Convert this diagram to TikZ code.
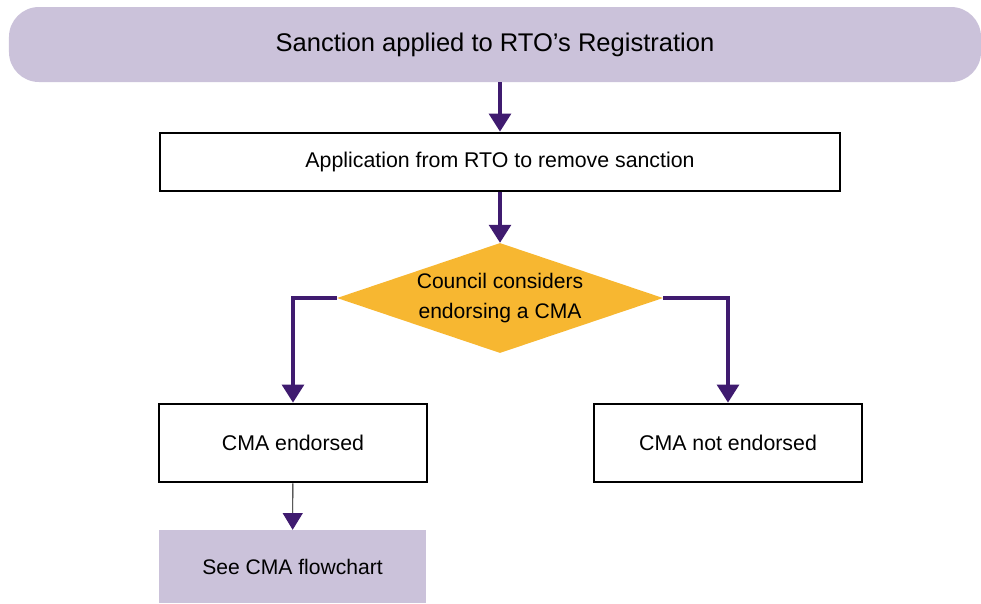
\documentclass[tikz,border=0pt]{standalone}
\usepackage{fontspec}
\setmainfont{Liberation Sans}
\usetikzlibrary{shapes.geometric,arrows.meta}
\definecolor{lavender}{HTML}{CBC2DA}
\definecolor{darkpurple}{HTML}{3F1B6F}
\definecolor{amber}{HTML}{F7B731}

\begin{document}
\begin{tikzpicture}[x=0.03cm,y=-0.03cm,
		start_style/.style={rectangle,rounded corners=0.9cm,fill=lavender,minimum width=29.16cm,minimum height=2.25cm,font=\fontsize{21.8}{25}\selectfont},
		box_style/.style={rectangle,draw=black,line width=2.4pt,fill=white,font=\fontsize{18.2}{22}\selectfont},
		decision_style/.style={diamond,shape aspect=2.96,fill=amber,inner sep=0pt,minimum width=9.78cm,minimum height=3.3cm,align=center,font=\fontsize{18}{25}\selectfont},
		link_style/.style={rectangle,fill=lavender,font=\fontsize{18}{22}\selectfont},
		edge_style/.style={draw=darkpurple,line width=2.6pt,-{Triangle[width=0.66cm,length=0.54cm]}},
		thin_edge_style/.style={draw=black,line width=0.8pt,-{Triangle[width=0.6cm,length=0.5cm,color=darkpurple]}}]
		
		\useasboundingbox (0,0) rectangle (981,603);
		
		\node[start_style] (n0) at (495,44.5) {Sanction applied to RTO’s Registration};
		\node[box_style,minimum width=20.4cm,minimum height=1.74cm] (n1) at (500,162) {Application from RTO to remove sanction};
		\node[decision_style] (n2) at (500,298) {Council considers\\endorsing a CMA};
		\node[box_style,minimum width=8.04cm,minimum height=2.34cm] (n3) at (293,443) {CMA endorsed};
		\node[box_style,minimum width=8.04cm,minimum height=2.34cm] (n4) at (728,443) {CMA not endorsed};
		\node[link_style,minimum width=8.01cm,minimum height=2.19cm] (n5) at (292.5,566.5) {See CMA flowchart};
		
		\draw[edge_style] (n0.south -| n1.north) -- (n1.north);
		\draw[edge_style] (n1) -- (n2);
		\draw[edge_style] (n2.west) -| (n3.north);
		\draw[edge_style] (n2.east) -| (n4.north);
		\draw[thin_edge_style] (n3) -- (n5);

\end{tikzpicture}
\end{document}
